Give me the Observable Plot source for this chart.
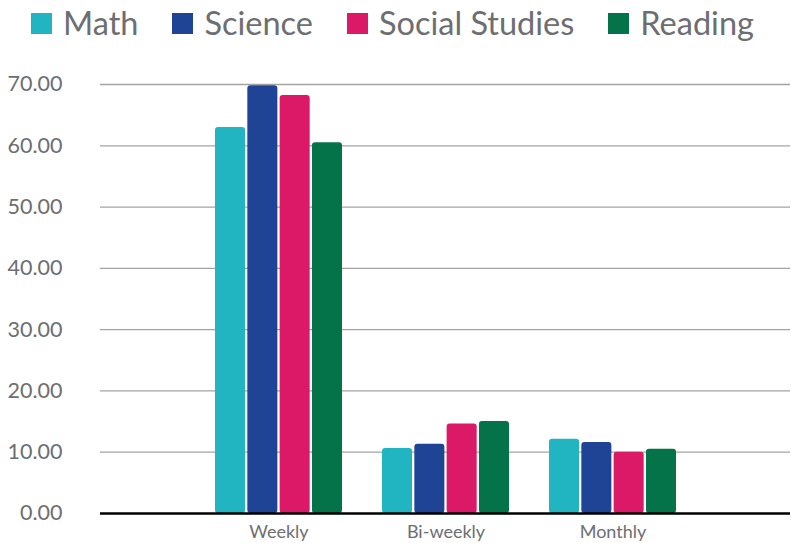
<!DOCTYPE html>
<html><head><meta charset="utf-8">
<script src="https://cdn.jsdelivr.net/npm/d3@7"></script>
<script src="https://cdn.jsdelivr.net/npm/@observablehq/plot@0.6"></script>
<style>
body{margin:0;background:#fff;font-family:Lato,"Open Sans",sans-serif;}
#legend{display:flex;align-items:center;height:47px;margin-bottom:8px;padding-left:31px;box-sizing:border-box;}
.item{display:flex;align-items:center;margin-right:34px;}
.sw{width:21px;height:21px;margin-right:11px;}
.lab{font-size:32.5px;color:#6d6e71;line-height:1;}
#chart svg{display:block;}
</style></head><body>
<div id="legend"></div>
<div id="chart"></div>
<script>
const frequencies = ["Weekly", "Bi-weekly", "Monthly"];
const subjects = ["Math", "Science", "Social Studies", "Reading"];
const subjectColors = ["#21b5c2", "#1f4496", "#dc1966", "#05734a"];
const mathValues = [63.0, 10.6, 12.1];
const scienceValues = [69.8, 11.3, 11.6];
const socialStudiesValues = [68.2, 14.6, 10.0];
const readingValues = [60.5, 15.0, 10.5];
const yTicks = [0, 10, 20, 30, 40, 50, 60, 70];

const series = [mathValues, scienceValues, socialStudiesValues, readingValues];

// legend
const legend = document.getElementById("legend");
subjects.forEach((s, i) => {
  const it = document.createElement("div");
  it.className = "item";
  const sw = document.createElement("div");
  sw.className = "sw";
  sw.style.background = subjectColors[i];
  const lab = document.createElement("span");
  lab.className = "lab";
  lab.textContent = s;
  it.appendChild(sw); it.appendChild(lab);
  legend.appendChild(it);
});

const W = 791, H = 488, ML = 100, MR = 1, MT = 29, MB = 30;
const xOpts = {type: "band", domain: frequencies, paddingInner: 0.24, paddingOuter: 0.68};
const xs = Plot.scale({x: {...xOpts, range: [ML, W - MR]}});
const bw = xs.bandwidth;
const gap = 2;
const barW = (bw - gap * 3) / 4;

const marks = [
  Plot.ruleY(yTicks.filter(d => d > 0), {stroke: "#a3a3a3", strokeWidth: 1.3})
];
series.forEach((vals, i) => {
  const rows = frequencies.map((f, j) => ({freq: f, value: vals[j]}));
  marks.push(Plot.barY(rows, {
    x: "freq", y: "value", fill: subjectColors[i], rx: 3,
    insetLeft: i * (barW + gap), insetRight: bw - (i * (barW + gap) + barW)
  }));
});
marks.push(Plot.ruleY([0], {stroke: "#000", strokeWidth: 2.5}));
marks.push(Plot.axisY({ticks: yTicks, tickFormat: d => d.toFixed(2), tickSize: 0, tickPadding: 38, fontSize: 21.5, color: "#6d6e71", label: null}));
marks.push(Plot.axisX({tickSize: 0, tickPadding: 12, fontSize: 18, color: "#6d6e71", label: null}));

const chart = Plot.plot({
  width: W, height: H,
  marginLeft: ML, marginRight: MR, marginTop: MT, marginBottom: MB,
  style: {fontFamily: "Lato, 'Open Sans', sans-serif", background: "#fff"},
  x: xOpts,
  y: {domain: [0, 70]},
  marks
});
document.getElementById("chart").appendChild(chart);
</script>
</body></html>
